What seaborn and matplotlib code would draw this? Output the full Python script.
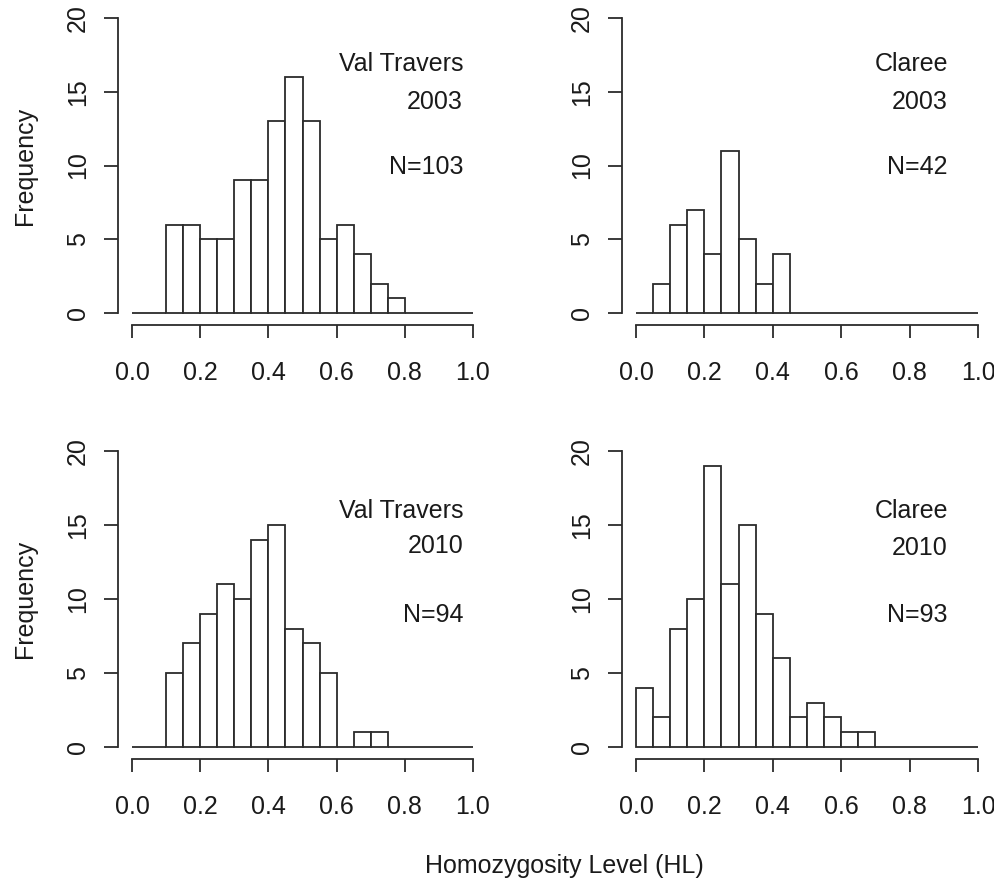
import numpy as np
import pandas as pd
import matplotlib
matplotlib.use("Agg")
import matplotlib.pyplot as plt
import seaborn as sns

# ---- data ----
bin_edges = [0.0, 0.05, 0.1, 0.15, 0.2, 0.25, 0.3, 0.35, 0.4, 0.45, 0.5,
             0.55, 0.6, 0.65, 0.7, 0.75, 0.8, 0.85, 0.9, 0.95, 1.0]
bin_centers = [0.025, 0.075, 0.125, 0.175, 0.225, 0.275, 0.325, 0.375, 0.425, 0.475,
               0.525, 0.575, 0.625, 0.675, 0.725, 0.775, 0.825, 0.875, 0.925, 0.975]

vt2003 = [0, 0, 6, 6, 5, 5, 9, 9, 13, 16, 13, 5, 6, 4, 2, 1, 0, 0, 0, 0]
cl2003 = [0, 2, 6, 7, 4, 11, 5, 2, 4, 0, 0, 0, 0, 0, 0, 0, 0, 0, 0, 0]
vt2010 = [0, 0, 5, 7, 9, 11, 10, 14, 15, 8, 7, 5, 0, 1, 1, 0, 0, 0, 0, 0]
cl2010 = [4, 2, 8, 10, 19, 11, 15, 9, 6, 2, 3, 2, 1, 1, 0, 0, 0, 0, 0, 0]

sites = ["Val Travers", "Claree", "Val Travers", "Claree"]
years = ["2003", "2003", "2010", "2010"]
sample_sizes = ["N=103", "N=42", "N=94", "N=93"]

x_ticks = [0.0, 0.2, 0.4, 0.6, 0.8, 1.0]
x_ticklabels = ["0.0", "0.2", "0.4", "0.6", "0.8", "1.0"]
y_ticks = [0, 5, 10, 15, 20]
y_ticklabels = ["0", "5", "10", "15", "20"]

# ---- style ----
sns.set_theme(style="ticks")
plt.rcParams["font.family"] = ["Liberation Sans", "DejaVu Sans"]
FS = 18
INK = "#2b2b2b"
TXT = "#1a1a1a"

W, H = 995, 885
fig = plt.figure(figsize=(W / 100, H / 100), dpi=100)
fig.patch.set_facecolor("white")

# axes rectangles in pixel coords: (left, top, right, bottom)
rects = [
    (118.4, 6.2, 486.6, 324.8),
    (622.3, 6.2, 991.7, 324.8),
    (118.4, 439.2, 486.6, 758.8),
    (622.3, 439.2, 991.7, 758.8),
]
# annotation placement (x right edge, baselines) in data coords
text_x = [0.971, 0.912, 0.971, 0.912]
text_y = [(16.4, 13.8, 9.4), (16.4, 13.8, 9.4), (15.5, 13.1, 8.45), (15.5, 13.0, 8.45)]

series = [vt2003, cl2003, vt2010, cl2010]

for i, counts in enumerate(series):
    l, t, r, b = rects[i]
    ax = fig.add_axes([l / W, 1 - b / H, (r - l) / W, (b - t) / H])
    df = pd.DataFrame({"HL": bin_centers, "count": counts})
    sns.histplot(data=df, x="HL", weights="count", bins=bin_edges, ax=ax,
                 color="white", edgecolor=INK, linewidth=1.3, alpha=1)
    ax.set_xlim(-0.04, 1.04)
    ax.set_ylim(-0.8, 20.8)
    for s in ["top", "right"]:
        ax.spines[s].set_visible(False)
    for s in ["left", "bottom"]:
        ax.spines[s].set_color(INK)
        ax.spines[s].set_linewidth(1.3)
    ax.spines["left"].set_bounds(0, 20)
    ax.spines["bottom"].set_bounds(0, 1)
    ax.set_xticks(x_ticks)
    ax.set_xticklabels(x_ticklabels, fontsize=FS, color=TXT)
    ax.set_yticks(y_ticks)
    ax.set_yticklabels(y_ticklabels, fontsize=FS, color=TXT, rotation=90, va="center")
    ax.tick_params(axis="x", length=9.5, width=1.3, color=INK, pad=16.5, direction="out")
    ax.tick_params(axis="y", length=10, width=1.3, color=INK, pad=10.5, direction="out")
    ax.set_xlabel("")
    ax.set_ylabel("")
    ax.set_facecolor("white")
    ax.grid(False)
    for label, yy in zip([sites[i], years[i], sample_sizes[i]], text_y[i]):
        ax.text(text_x[i], yy, label, ha="right", va="baseline", fontsize=FS, color=TXT)

fig.text(25 / W, 1 - 165.5 / H, "Frequency", rotation=90, ha="center", va="center",
         fontsize=FS, color=TXT)
fig.text(25 / W, 1 - 599 / H, "Frequency", rotation=90, ha="center", va="center",
         fontsize=FS, color=TXT)
fig.text(564 / W, 1 - 866 / H, "Homozygosity Level (HL)", ha="center", va="center",
         fontsize=FS, color=TXT)

fig.savefig("out.png", dpi=100, facecolor="white")
